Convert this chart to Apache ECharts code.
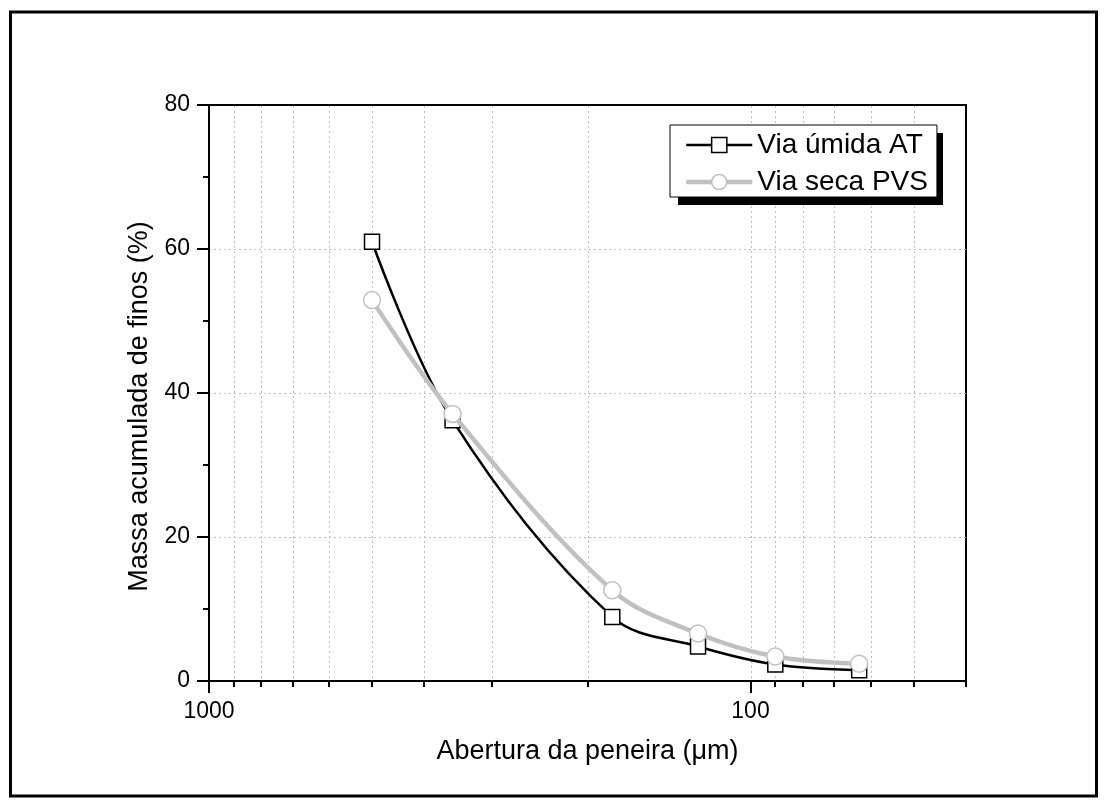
<!DOCTYPE html>
<html>
<head>
<meta charset="utf-8">
<script src="https://cdn.jsdelivr.net/npm/echarts@6/dist/echarts.min.js"></script>
<style>
  html, body { margin: 0; padding: 0; background: #fff; }
  #chart { width: 1109px; height: 808px; }
</style>
</head>
<body>
<div id="chart"></div>
<script>
// Sieve openings (µm) and accumulated fines (%) for both routes
const sieveOpening = [500, 355, 180, 125, 90, 63];
const wetFines = [61.0, 36.2, 8.9, 4.8, 2.3, 1.5];
const dryFines = [52.9, 37.1, 12.6, 6.6, 3.4, 2.4];
const seriesNames = ['Via úmida AT', 'Via seca PVS'];

// Axis ranges and ticks
const xRange = [40, 1000];
const xMajorTicks = [1000, 100];
const xMinorTicks = [900, 800, 700, 600, 500, 400, 300, 200, 90, 80, 70, 60, 50, 40];
const yRange = [0, 80];
const yStep = 20;

const FONT = '"Liberation Sans", Arial, Helvetica, sans-serif';

const chart = echarts.init(document.getElementById('chart'), null, { renderer: 'canvas' });

// Log-axis ticks and dotted vertical grid, drawn through the x scale
function renderXTicks(params, api) {
  const v = api.value(0);
  const isMajor = api.value(2) === 1;
  const base = api.coord([v, yRange[0]]);
  const top = api.coord([v, yRange[1]]);
  const x = Math.round(base[0]);
  const children = [];
  if (v > xRange[0] && v < xRange[1]) {
    children.push({
      type: 'line',
      shape: { x1: x + 0.5, y1: top[1] + 1, x2: x + 0.5, y2: base[1] - 1 },
      style: { stroke: '#bdbdbd', lineWidth: 1, lineDash: [2, 3] }
    });
  }
  children.push({
    type: 'line',
    shape: { x1: x, y1: base[1], x2: x, y2: base[1] + (isMajor ? 12 : 6) },
    style: { stroke: '#000', lineWidth: 2 }
  });
  return { type: 'group', children: children };
}

const tickData = xMajorTicks.map(v => [v, 0, 1]).concat(xMinorTicks.map(v => [v, 0, 0]));

// Legend frame geometry (the legend box and its solid drop shadow)
const legendBox = { left: 670, top: 125, width: 265, height: 72 };
const legendShadowOffset = 8;

const option = {
  animation: false,
  backgroundColor: '#fff',
  graphic: [
    {
      type: 'rect',
      shape: { x: 10.5, y: 12, width: 1086, height: 784 },
      style: { fill: 'none', stroke: '#000', lineWidth: 3 },
      silent: true,
      z: 100
    },
    {
      type: 'rect',
      shape: {
        x: legendBox.left + legendShadowOffset,
        y: legendBox.top + legendShadowOffset,
        width: legendBox.width,
        height: legendBox.height
      },
      style: { fill: '#000' },
      silent: true,
      z: 9
    }
  ],
  grid: {
    left: 209, right: 143, top: 105, bottom: 127,
    show: true,
    borderColor: '#000',
    borderWidth: 2,
    backgroundColor: 'transparent',
    containLabel: false,
    outerBoundsMode: 'none'
  },
  legend: {
    orient: 'vertical',
    left: legendBox.left,
    top: legendBox.top,
    padding: [6, 9, 1, 14],
    itemGap: 9,
    itemWidth: 66,
    itemHeight: 19,
    z: 10,
    backgroundColor: '#fff',
    borderColor: '#000',
    borderWidth: 1,
    borderRadius: 0,
    textStyle: { fontFamily: FONT, fontSize: 28, color: '#000' },
    data: [
      { name: seriesNames[0], lineStyle: { width: 2.5 }, itemStyle: { borderWidth: 1.5 } },
      { name: seriesNames[1], lineStyle: { width: 4.5 }, itemStyle: { borderWidth: 1.5 } }
    ]
  },
  xAxis: {
    type: 'log',
    logBase: 10,
    min: xRange[0],
    max: xRange[1],
    inverse: true,
    name: 'Abertura da peneira (μm)',
    nameLocation: 'middle',
    nameGap: 57,
    nameTextStyle: { fontFamily: FONT, fontSize: 27, color: '#000' },
    axisLine: { show: true, onZero: false, lineStyle: { color: '#000', width: 2 } },
    axisTick: { show: false },
    splitLine: { show: false },
    axisLabel: {
      margin: 19,
      fontFamily: FONT,
      fontSize: 23,
      color: '#000',
      hideOverlap: false,
      formatter: function (v) {
        const r = Math.round(v);
        return xMajorTicks.indexOf(r) >= 0 && Math.abs(v - r) < 1e-6 ? String(r) : '';
      }
    }
  },
  yAxis: {
    type: 'value',
    min: yRange[0],
    max: yRange[1],
    interval: yStep,
    name: 'Massa acumulada de finos (%)',
    nameLocation: 'middle',
    nameGap: 53,
    nameTextStyle: { fontFamily: FONT, fontSize: 27, color: '#000', padding: [0, 27, 0, 0] },
    axisLine: { show: true, onZero: false, lineStyle: { color: '#000', width: 2 } },
    axisTick: { show: true, inside: false, length: 12, lineStyle: { color: '#000', width: 2 } },
    minorTick: { show: true, splitNumber: 2, length: 6, lineStyle: { color: '#000', width: 2 } },
    splitLine: {
      show: true,
      showMinLine: false,
      showMaxLine: false,
      lineStyle: { color: '#bdbdbd', width: 1, type: [2, 3] }
    },
    axisLabel: { margin: 19, fontFamily: FONT, fontSize: 23, color: '#000' }
  },
  series: [
    {
      type: 'custom',
      silent: true,
      clip: false,
      z: 1,
      renderItem: renderXTicks,
      data: tickData,
      encode: { x: 0, y: 1 }
    },
    {
      name: seriesNames[0],
      type: 'line',
      smooth: 0.35,
      z: 3,
      data: sieveOpening.map((x, i) => [x, wetFines[i]]),
      symbol: 'rect',
      symbolSize: 15,
      showAllSymbol: true,
      lineStyle: { color: '#000', width: 2.5 },
      itemStyle: { color: '#fff', borderColor: '#000', borderWidth: 1.5 },
      emphasis: { disabled: true }
    },
    {
      name: seriesNames[1],
      type: 'line',
      smooth: 0.35,
      z: 4,
      data: sieveOpening.map((x, i) => [x, dryFines[i]]),
      symbol: 'circle',
      symbolSize: 17,
      showAllSymbol: true,
      lineStyle: { color: '#c0c0c0', width: 4.5 },
      itemStyle: { color: '#fff', borderColor: '#c0c0c0', borderWidth: 1.5 },
      emphasis: { disabled: true }
    }
  ]
};

chart.setOption(option);
</script>
</body>
</html>
